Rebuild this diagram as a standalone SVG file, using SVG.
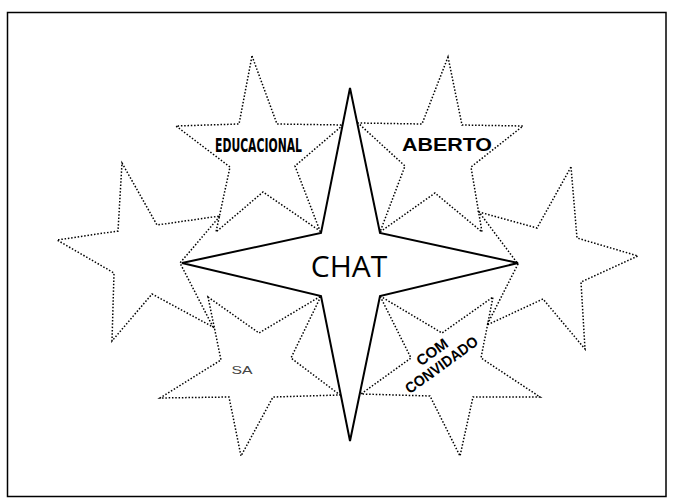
<svg xmlns="http://www.w3.org/2000/svg" width="673" height="504" viewBox="0 0 673 504">
<style>
.frame{fill:none;stroke:#000;stroke-width:1.5}
.dot{fill:none;stroke:#000;stroke-width:1.5;stroke-dasharray:1.5 1.8;stroke-linejoin:miter}
.main{fill:#fff;stroke:#000;stroke-width:2;stroke-linejoin:miter}
.lbl{font-family:"Liberation Sans","DejaVu Sans",sans-serif;font-weight:bold;fill:#000}
</style>
<rect width="673" height="504" fill="#fff"/>
<rect class="frame" x="7.5" y="12.5" width="658.5" height="484"/>
<g id="star-educacional">
<polygon class="dot" points="252,56 277,124 343,125 295,166 320,231 263,192 216,232 230,167 176,126 239,124"/>
<text class="lbl" x="258.5" y="151.5" text-anchor="middle" font-size="19" textLength="87" lengthAdjust="spacingAndGlyphs" style="font-family:'DejaVu Sans Condensed','Liberation Sans Narrow',sans-serif">EDUCACIONAL</text>
</g>
<g id="star-aberto">
<polygon class="dot" points="448,57 462,125 523,126 471,167 482,232 435,193 380,232 405,166 358,123 422,124"/>
<text class="lbl" x="447" y="151" text-anchor="middle" font-size="18" textLength="90" lengthAdjust="spacingAndGlyphs">ABERTO</text>
</g>
<g id="star-left">
<polygon class="dot" points="122,163 157,225 220,216 180,263 213,327 152,294 112,341 114,273 57,240 118,231"/>
</g>
<g id="star-right">
<polygon class="dot" points="571,167 577,238 638,256 581,282 585,349 543,299 487,325 518,264 479,212 537,228"/>
</g>
<g id="star-sa">
<polygon class="dot" points="208,297 259,333 321,296 291,358 340,395 273,397 241,456 229,397 160,398 221,360"/>
<text x="242" y="373.5" text-anchor="middle" font-size="10" textLength="21" lengthAdjust="spacingAndGlyphs" style="font-family:'Liberation Sans',sans-serif;fill:#444">SA</text>
</g>
<g id="star-convidado">
<polygon class="dot" points="380,296 442,333 493,297 481,358 540,397 473,397 460,456 430,396 361,394 411,358"/>
<g transform="translate(441.7,365) rotate(-36)">
<text class="lbl" x="0" y="-11" text-anchor="middle" font-size="15">COM</text>
<text class="lbl" x="0" y="5" text-anchor="middle" font-size="15" textLength="86" lengthAdjust="spacingAndGlyphs">CONVIDADO</text>
</g>
</g>
<g id="chat">
<polygon class="main" points="350,88 380,233 518,263 380,296 350,441 321,296 182,263 321,233"/>
<text x="349" y="277" text-anchor="middle" font-size="30" style="font-family:'Open Sans','Liberation Sans',sans-serif;fill:#000">CHAT</text>
</g>
</svg>
